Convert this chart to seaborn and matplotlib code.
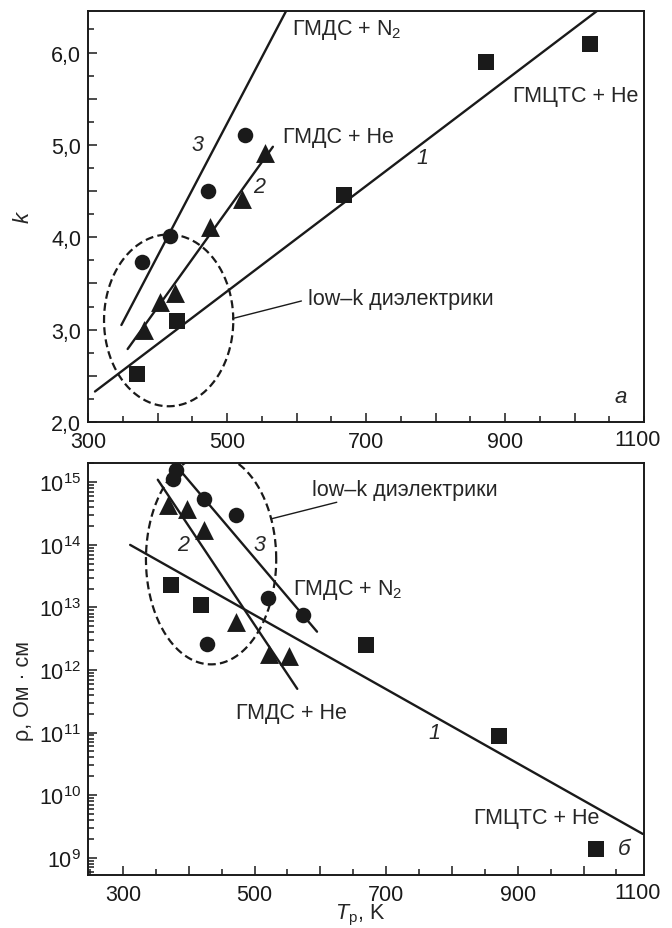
import numpy as np
import matplotlib
matplotlib.use('Agg')
import matplotlib.pyplot as plt
import matplotlib.ticker as mticker
import seaborn as sns

# --- panel a: dielectric constant k vs deposition temperature ---
k_circ_T = [378, 418, 472, 526]
k_circ = [3.73, 4.01, 4.50, 5.11]
k_tri_T = [381, 403, 425, 475, 521, 554]
k_tri = [3.00, 3.30, 3.40, 4.11, 4.41, 4.91]
k_sq_T = [370, 428, 668, 872, 1022]
k_sq = [2.52, 3.09, 4.46, 5.90, 6.09]

k_line1_T = [310, 1034]
k_line1 = [2.33, 6.46]
k_line2_T = [357, 566]
k_line2 = [2.79, 4.98]
k_line3_T = [348, 585]
k_line3 = [3.05, 6.45]

# --- panel b: resistivity rho vs deposition temperature ---
r_circ_T = [380, 376, 424, 472, 520, 573, 428]
r_circ = [1.58e15, 1.12e15, 5.5e14, 3.0e14, 1.41e13, 7.6e12, 2.57e12]
r_tri_T = [369, 398, 424, 472, 522, 552]
r_tri = [4.4e14, 3.7e14, 1.7e14, 5.8e12, 1.8e12, 1.66e12]
r_sq_T = [373, 419, 670, 872, 1019]
r_sq = [2.3e13, 1.1e13, 2.5e12, 8.9e10, 1.4e9]

r_line1_T = [311, 1090]
r_line1 = [1.0e14, 2.4e9]
r_line2_T = [353, 565]
r_line2 = [1.1e15, 5.0e11]
r_line3_T = [387, 595]
r_line3 = [1.55e15, 4.1e12]

rho_decades = [1e9, 1e10, 1e11, 1e12, 1e13, 1e14, 1e15]
low_k = 'low–k диэлектрики'

sns.set_style('ticks')
plt.rcParams['font.family'] = ['Liberation Sans', 'DejaVu Sans']
plt.rcParams['mathtext.fontset'] = 'custom'
plt.rcParams['mathtext.rm'] = 'Liberation Sans'
plt.rcParams['mathtext.it'] = 'Liberation Sans:italic'
plt.rcParams['font.size'] = 15.5

ink = '#1a1a1a'
fs = 15.5
fig = plt.figure(figsize=(6.72, 9.29), dpi=100)
ax1 = fig.add_axes([0.131, 0.5447, 0.8274, 0.4424])
ax2 = fig.add_axes([0.131, 0.0571, 0.8274, 0.4435])


def markers(ax, xs, ys, m, s):
    sns.scatterplot(x=xs, y=ys, ax=ax, marker=m, s=s, color=ink,
                    edgecolor=ink, linewidth=0, zorder=4, legend=False)


def fit(ax, xs, ys):
    ax.plot(xs, ys, color=ink, lw=1.7, zorder=3)


def style(ax):
    for sp in ax.spines.values():
        sp.set_linewidth(1.4)
        sp.set_color(ink)
    ax.tick_params(which='both', direction='in', color=ink, width=1.1,
                   labelsize=fs, labelcolor=ink, top=False, right=False)
    ax.tick_params(which='major', length=6.5)
    ax.tick_params(which='minor', length=4.2)
    ax.tick_params(axis='x', which='both', pad=6.5)
    ax.tick_params(axis='y', which='both', pad=5)


def xfmt(v, p):
    # labels on 300, 500, 700, 900; 1100 is written separately, shifted left
    return f'{v:.0f}' if int(round(v)) % 200 == 100 and v < 1050 else ''


# panel a
markers(ax1, k_circ_T, k_circ, 'o', 125)
markers(ax1, k_tri_T, k_tri, '^', 185)
markers(ax1, k_sq_T, k_sq, 's', 120)
fit(ax1, k_line1_T, k_line1)
fit(ax1, k_line2_T, k_line2)
fit(ax1, k_line3_T, k_line3)

t = np.linspace(0, 2 * np.pi, 300)
ax1.plot(416 + 93 * np.cos(t), 3.10 + 0.93 * np.sin(t), color=ink, lw=1.6,
         dashes=(3.6, 1.9), zorder=2)
ax1.plot([508, 607], [3.12, 3.31], color=ink, lw=1.0)

ax1.set_xlim(300, 1100)
ax1.set_ylim(2.0, 6.45)
ax1.xaxis.set_major_locator(mticker.FixedLocator(range(300, 1001, 100)))
ax1.xaxis.set_minor_locator(mticker.MultipleLocator(50))
ax1.xaxis.set_major_formatter(mticker.FuncFormatter(xfmt))
ax1.yaxis.set_major_locator(mticker.MultipleLocator(0.5))
ax1.yaxis.set_minor_locator(mticker.MultipleLocator(0.25))
ax1.yaxis.set_major_formatter(mticker.FuncFormatter(
    lambda v, p: f'{v:.1f}'.replace('.', ',') if abs(v - round(v)) < 1e-6 else ''))
ax1.set_ylabel('k', fontstyle='italic', fontsize=16)
ax1.yaxis.set_label_coords(-0.098, 0.5)
style(ax1)
ax1.text(1090, -0.018, '1100', transform=ax1.get_xaxis_transform(),
         ha='center', va='top', fontsize=fs, color=ink)

ax1.text(593, 6.25, r'ГМДС + N$_\mathregular{2}$', va='center', ha='left', fontsize=fs)
ax1.text(580, 5.09, 'ГМДС + He', va='center', ha='left', fontsize=fs)
ax1.text(911, 5.54, 'ГМЦТС + He', va='center', ha='left', fontsize=fs)
ax1.text(616, 3.34, low_k, va='center', ha='left', fontsize=fs)
ax1.text(458, 5.00, '3', fontstyle='italic', ha='center', va='center', fontsize=fs)
ax1.text(546, 4.55, '2', fontstyle='italic', ha='center', va='center', fontsize=fs)
ax1.text(781, 4.86, '1', fontstyle='italic', ha='center', va='center', fontsize=fs)
ax1.text(1067, 2.28, 'а', fontstyle='italic', ha='center', va='center', fontsize=16)

# panel b
markers(ax2, r_circ_T, r_circ, 'o', 125)
markers(ax2, r_tri_T, r_tri, '^', 185)
markers(ax2, r_sq_T, r_sq, 's', 120)
fit(ax2, r_line1_T, r_line1)
fit(ax2, r_line2_T, r_line2)
fit(ax2, r_line3_T, r_line3)

ax2.set_yscale('log')
ax2.plot(434 + 99 * np.cos(t), 10 ** (13.77 + 1.68 * np.sin(t)), color=ink,
         lw=1.6, dashes=(3.6, 1.9), zorder=2)
ax2.plot([525, 625], [2.6e14, 4.8e14], color=ink, lw=1.0)

ax2.set_xlim(247, 1092)
ax2.set_ylim(5.3e8, 2.04e15)
ax2.xaxis.set_major_locator(mticker.FixedLocator(range(300, 1001, 100)))
ax2.xaxis.set_minor_locator(mticker.FixedLocator(range(250, 1091, 50)))
ax2.xaxis.set_major_formatter(mticker.FuncFormatter(xfmt))
ax2.yaxis.set_major_locator(mticker.FixedLocator(rho_decades))
ax2.yaxis.set_minor_locator(mticker.LogLocator(base=10, subs=np.arange(2, 10), numticks=20))
ax2.yaxis.set_minor_formatter(mticker.NullFormatter())
ax2.yaxis.set_major_formatter(mticker.FuncFormatter(
    lambda v, p: r'$\mathregular{10^{%d}}$' % int(round(np.log10(v)))))
ax2.set_ylabel('ρ, Ом · см', fontsize=fs)
ax2.yaxis.set_label_coords(-0.098, 0.45)
ax2.set_xlabel(r'$\mathit{T}_\mathregular{р}$, K', fontsize=fs)
ax2.xaxis.set_label_coords(0.49, -0.066)
style(ax2)
ax2.text(1082, -0.018, '1100', transform=ax2.get_xaxis_transform(),
         ha='center', va='top', fontsize=fs, color=ink)

ax2.text(587, 7.8e14, low_k, va='center', ha='left', fontsize=fs)
ax2.text(559, 1.95e13, r'ГМДС + N$_\mathregular{2}$', va='center', ha='left', fontsize=fs)
ax2.text(472, 2.1e11, 'ГМДС + He', va='center', ha='left', fontsize=fs)
ax2.text(833, 4.4e9, 'ГМЦТС + He', va='center', ha='left', fontsize=fs)
ax2.text(508, 1.0e14, '3', fontstyle='italic', ha='center', va='center', fontsize=fs)
ax2.text(391, 1.0e14, '2', fontstyle='italic', ha='center', va='center', fontsize=fs)
ax2.text(773, 1.02e11, '1', fontstyle='italic', ha='center', va='center', fontsize=fs)
ax2.text(1061, 1.38e9, 'б', fontstyle='italic', ha='center', va='center', fontsize=16)

fig.savefig('out.png', dpi=100, facecolor='white')
